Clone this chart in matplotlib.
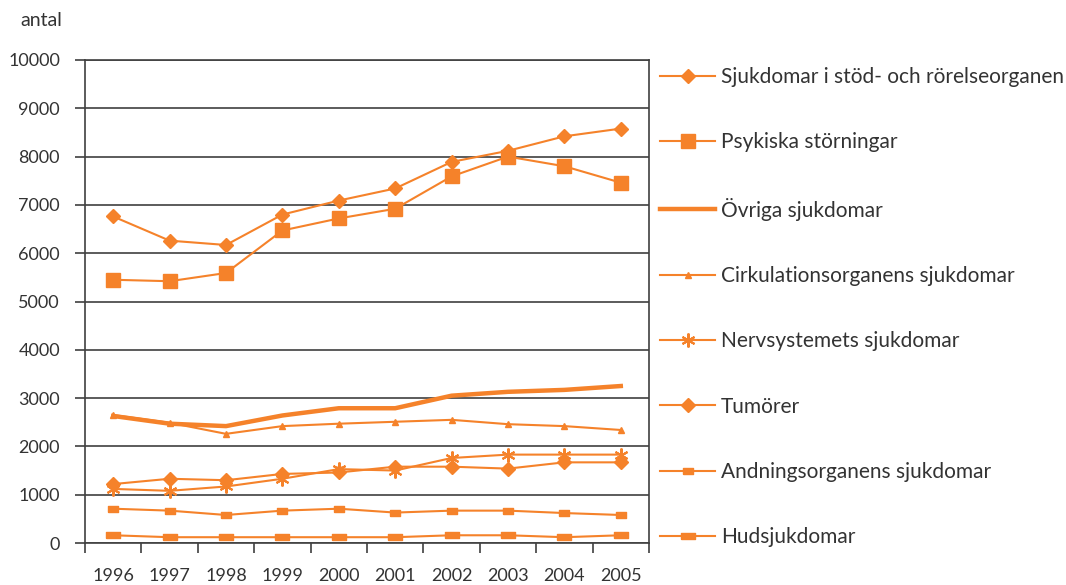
import matplotlib
matplotlib.use("Agg")
import matplotlib.pyplot as plt
import numpy as np

years = ["1996", "1997", "1998", "1999", "2000", "2001", "2002", "2003", "2004", "2005"]
series_names = [
    "Sjukdomar i stöd- och rörelseorganen",
    "Psykiska störningar",
    "Övriga sjukdomar",
    "Cirkulationsorganens sjukdomar",
    "Nervsystemets sjukdomar",
    "Tumörer",
    "Andningsorganens sjukdomar",
    "Hudsjukdomar",
]
stod = [6760, 6260, 6170, 6800, 7090, 7340, 7890, 8120, 8420, 8580]
psykiska = [5450, 5420, 5590, 6470, 6720, 6920, 7590, 8000, 7800, 7460]
ovriga = [2630, 2470, 2420, 2640, 2790, 2790, 3050, 3130, 3170, 3250]
cirkulation = [2650, 2490, 2260, 2420, 2470, 2510, 2550, 2460, 2420, 2340]
nerv = [1120, 1080, 1170, 1330, 1530, 1500, 1760, 1830, 1830, 1830]
tumorer = [1220, 1330, 1300, 1430, 1460, 1580, 1580, 1540, 1670, 1670]
andning = [710, 670, 580, 670, 710, 630, 670, 670, 620, 580]
hud = [160, 120, 120, 120, 120, 120, 160, 160, 120, 160]
yticks = [0, 1000, 2000, 3000, 4000, 5000, 6000, 7000, 8000, 9000, 10000]

ORANGE = "#F5822A"
TXT = "#333333"
GRID = "#404040"
FONT = "Lato"

plt.rcParams["font.family"] = [FONT, "DejaVu Sans"]

fig = plt.figure(figsize=(10.66, 5.85), dpi=100)
ax = fig.add_axes([85 / 1066, 1 - 543 / 585, (649 - 85) / 1066, (543 - 60) / 585])

x = np.arange(len(years))

hud_marker = [(-1, -0.45), (1, -0.45), (1, 0.45), (-1, 0.45), (-1, -0.45)]
and_marker = [(-1, -0.65), (1, -0.65), (1, 0.65), (-1, 0.65), (-1, -0.65)]

styles = [
    (stod, dict(marker="D", markersize=7, lw=1.5)),
    (psykiska, dict(marker="s", markersize=10, lw=1.5)),
    (ovriga, dict(marker=None, lw=3.2)),
    (cirkulation, dict(marker="^", markersize=4.5, lw=1.5)),
    (nerv, dict(marker=(6, 2, 0), markersize=10, markeredgewidth=1.5, lw=1.5)),
    (tumorer, dict(marker="D", markersize=7, lw=1.5)),
    (andning, dict(marker=and_marker, markersize=7.5, lw=1.5)),
    (hud, dict(marker=hud_marker, markersize=10.5, lw=1.5)),
]

handles = []
for name, (vals, st) in zip(series_names, styles):
    (h,) = ax.plot(x, vals, color=ORANGE, markerfacecolor=ORANGE,
                   markeredgecolor=ORANGE, label=name, zorder=3,
                   solid_joinstyle="miter", **st)
    handles.append(h)

ax.set_xlim(-0.5, len(years) - 0.5)
ax.set_ylim(0, 10000)
ax.set_yticks(yticks)
ax.set_yticklabels([str(v) for v in yticks])
ax.yaxis.grid(True, color=GRID, lw=1.2)
ax.set_axisbelow(True)

ax.set_xticks(np.arange(-0.5, len(years), 1.0))
ax.set_xticklabels([])
ax.set_xticks(x, minor=True)
ax.set_xticklabels(years, minor=True)
ax.tick_params(axis="x", which="major", length=7, width=1.2, color=GRID, direction="out")
ax.tick_params(axis="x", which="minor", length=0, pad=18, labelsize=13, labelcolor=TXT)
ax.tick_params(axis="y", length=7, width=1.2, color=GRID, pad=11, labelsize=13, labelcolor=TXT)

for s in ax.spines.values():
    s.set_color(GRID)
    s.set_linewidth(1.2)

fig.text(20 / 1066, 1 - 20 / 585, "antal", fontsize=14, color=TXT, va="center", ha="left")

leg = fig.legend(handles=handles, loc="upper left",
                 bbox_to_anchor=(660 / 1066, 1 - 67 / 585),
                 frameon=False, fontsize=15, handlelength=2.65,
                 handletextpad=0.28, labelspacing=2.175, borderaxespad=0,
                 borderpad=0)
for t in leg.get_texts():
    t.set_color(TXT)

fig.savefig("out.png", dpi=100)
